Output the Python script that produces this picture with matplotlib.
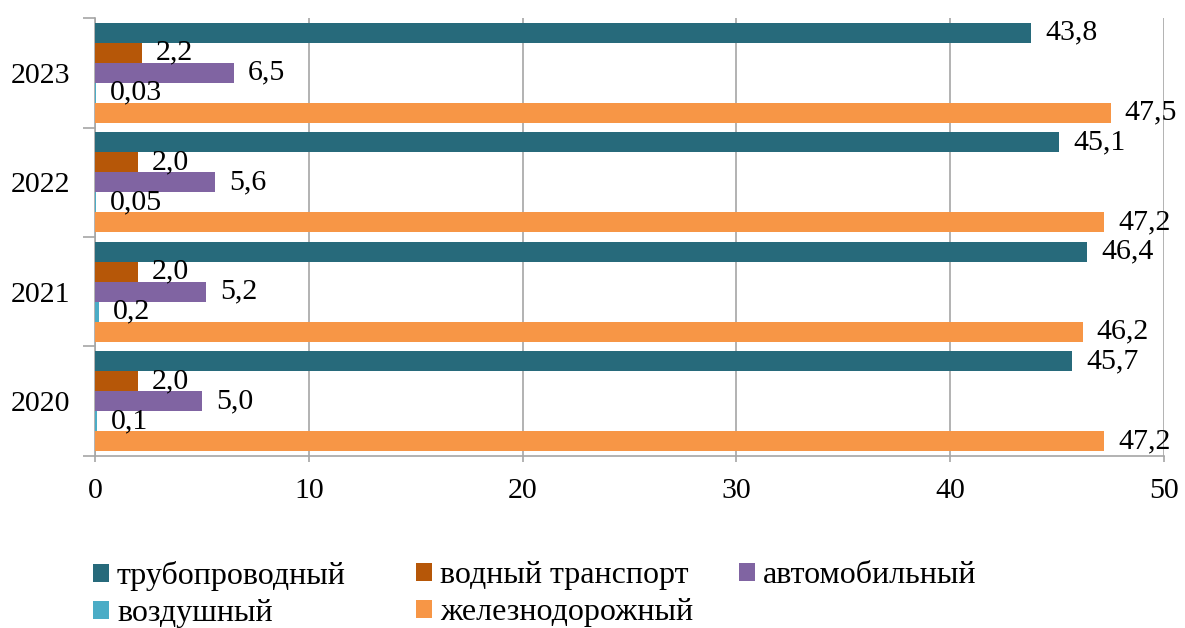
import matplotlib.pyplot as plt
import numpy as np

years = ["2020", "2021", "2022", "2023"]
series_names = ["трубопроводный", "водный транспорт", "автомобильный",
                "воздушный", "железнодорожный"]
pipeline = [45.7, 46.4, 45.1, 43.8]
water = [2.0, 2.0, 2.0, 2.2]
road = [5.0, 5.2, 5.6, 6.5]
air = [0.1, 0.2, 0.05, 0.03]
rail = [47.2, 46.2, 47.2, 47.5]
x_ticks = [0, 10, 20, 30, 40, 50]

colors = ["#276A7B", "#B65708", "#8064A2", "#4BACC6", "#F79646"]

plt.rcParams["font.family"] = ["Liberation Serif", "DejaVu Serif"]
grey = "#A6A6A6"

fig = plt.figure(figsize=(11.85, 6.28), dpi=100)
ax = fig.add_axes([0.0802, 0.2739, 0.9021, 0.6974])

y = np.arange(len(years))
bar_h = 0.183
offsets = [2 * bar_h, bar_h, 0, -bar_h, -2 * bar_h]
data = [pipeline, water, road, air, rail]

handles = []
for vals, off, col, name in zip(data, offsets, colors, series_names):
    bars = ax.barh(y + off, vals, height=bar_h, color=col, label=name, zorder=3)
    handles.append(bars)
    for yi, v in zip(y + off, vals):
        ax.annotate(str(v).replace(".", ","), xy=(v, yi), xytext=(14, 0),
                    textcoords="offset pixels", ha="left", va="center",
                    fontsize=21.5, color="black", zorder=4)

ax.set_xlim(0, 50)
ax.set_ylim(-0.5, 3.5)
ax.set_xticks(x_ticks)
ax.set_xticklabels([str(t) for t in x_ticks], fontsize=21.5)
ax.set_yticks(y)
ax.set_yticklabels(years, fontsize=21.5)
ax.set_yticks(np.arange(-0.5, 4, 1), minor=True)
ax.tick_params(axis="y", which="major", length=0, pad=17.5)
ax.tick_params(axis="y", which="minor", length=9, width=1.2, color=grey)
ax.tick_params(axis="x", length=4.5, width=1.2, color=grey, pad=11)

ax.grid(axis="x", color=grey, linewidth=1.2, zorder=0)
for side in ["top", "right"]:
    ax.spines[side].set_visible(False)
for side in ["left", "bottom"]:
    ax.spines[side].set_color(grey)
    ax.spines[side].set_linewidth(1.2)

# legend laid out as three separate columns to keep even spacing
columns = [([0, 3], 93), ([1, 4], 416), ([2], 739)]
for idx, x_px in columns:
    fig.legend([handles[i] for i in idx], [series_names[i] for i in idx],
               loc="upper left", bbox_to_anchor=(x_px / 1185, 1 - 561 / 628),
               frameon=False, fontsize=23, handlelength=0.5, handleheight=0.5,
               handletextpad=0.25, labelspacing=0.26,
               borderaxespad=0, borderpad=0)

fig.savefig("out.png", dpi=100)
